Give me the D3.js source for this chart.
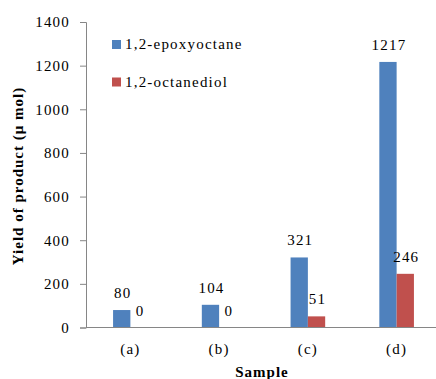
<!DOCTYPE html>
<html>
<head>
<meta charset="utf-8">
<script src="https://cdn.jsdelivr.net/npm/d3@7"></script>
<style>
  body { margin: 0; background: #fff; }
</style>
</head>
<body>
<svg id="chart" width="436" height="379" font-family="Liberation Serif"></svg>
<script>
let samples = ['(a)', '(b)', '(c)', '(d)']
let seriesNames = ['1,2-epoxyoctane', '1,2-octanediol']
let epoxyoctane = [80, 104, 321, 1217]
let octanediol = [0, 0, 51, 246]
let yTicks = [0, 200, 400, 600, 800, 1000, 1200, 1400]
let colors = ['#4F81BD', '#C0504D']

let svg = d3.select('#chart'),
    plotLeft = 86, plotRight = 441, plotTop = 22, plotBottom = 327.5,
    axisColor = '#868686',
    serif = 'Liberation Serif'

let rows = samples.map((s, i) => ({sample: s, values: [epoxyoctane[i], octanediol[i]]}))

let xScale = d3.scaleBand().domain(samples).range([plotLeft, plotRight]).paddingInner(0.61).paddingOuter(0.305)
let xSeries = d3.scaleBand().domain([0, 1]).range([0, xScale.bandwidth()])
let yScale = d3.scaleLinear().domain([0, 1400]).range([plotBottom, plotTop])

// y axis
let yAxis = svg.append('g')
    .attr('transform', 'translate(' + plotLeft + ', 0)')
    .call(d3.axisLeft(yScale).tickValues(yTicks).tickFormat(d3.format('d')).tickSizeOuter(0).tickSize(6).tickPadding(10))
    .attr('font-family', serif)
    .attr('font-size', 15)
yAxis.select('.domain').attr('stroke', axisColor)
yAxis.selectAll('line').attr('stroke', axisColor)
yAxis.selectAll('text')
    .attr('letter-spacing', '1.2px')
    .attr('fill', '#000')

// bars
let groups = svg.selectAll('.grp')
    .data(rows)
    .enter()
    .append('g')
    .attr('transform', d => 'translate(' + xScale(d.sample) + ', 0)')

groups.selectAll('rect')
    .data(d => d.values)
    .enter()
    .append('rect')
    .attr('x', (d, i) => xSeries(i))
    .attr('y', d => yScale(d))
    .attr('width', xSeries.bandwidth())
    .attr('height', d => plotBottom - yScale(d))
    .attr('fill', (d, i) => colors[i])

groups.selectAll('.lbl')
    .data(d => d.values)
    .enter()
    .append('text')
    .attr('x', (d, i) => xSeries(i) + xSeries.bandwidth() / 2 + 1)
    .attr('y', d => yScale(d) - 12)
    .attr('text-anchor', 'middle')
    .attr('font-family', serif)
    .attr('font-size', 15)
    .attr('letter-spacing', '1.2px')
    .text(d => d)

// x axis
let xAxis = svg.append('g')
    .attr('transform', 'translate(0, ' + plotBottom + ')')
    .call(d3.axisBottom(xScale).tickSize(0).tickSizeOuter(0).tickPadding(16))
    .attr('font-family', serif)
    .attr('font-size', 15)
xAxis.select('.domain').attr('stroke', axisColor).attr('d', 'M' + plotLeft + ',0H436')
xAxis.selectAll('text')
    .attr('letter-spacing', '1.2px')
    .attr('fill', '#000')

// axis titles
svg.append('text')
    .attr('transform', 'translate(23, 176) rotate(-90)')
    .attr('text-anchor', 'middle')
    .attr('font-family', serif)
    .attr('font-size', 15)
    .attr('font-weight', 'bold')
    .attr('letter-spacing', '1px')
    .text('Yield of product (μ mol)')

svg.append('text')
    .attr('x', 262)
    .attr('y', 377)
    .attr('text-anchor', 'middle')
    .attr('font-family', serif)
    .attr('font-size', 15)
    .attr('font-weight', 'bold')
    .attr('letter-spacing', '1px')
    .text('Sample')

// legend
let legend = svg.selectAll('.legend')
    .data(seriesNames)
    .enter()
    .append('g')
    .attr('transform', (d, i) => 'translate(112, ' + (40 + i * 37.5) + ')')
legend.append('rect')
    .attr('width', 9)
    .attr('height', 9)
    .attr('fill', (d, i) => colors[i])
legend.append('text')
    .attr('x', 13)
    .attr('y', 9)
    .attr('font-family', serif)
    .attr('font-size', 15)
    .attr('letter-spacing', '1.2px')
    .text(d => d)
</script>
</body>
</html>
